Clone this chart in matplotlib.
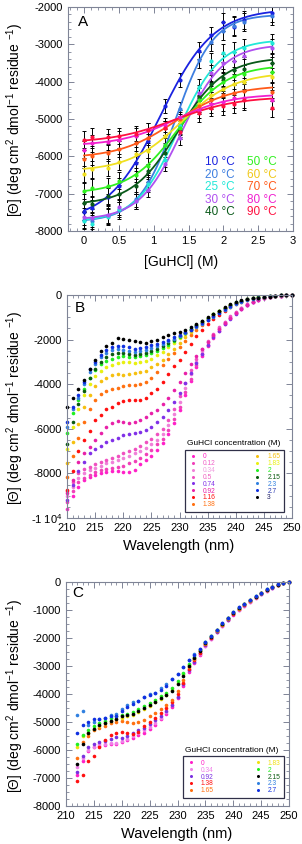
import numpy as np
import matplotlib
matplotlib.use('Agg')
import matplotlib.pyplot as plt
from matplotlib.ticker import MultipleLocator, FuncFormatter
from matplotlib.lines import Line2D

plt.rcParams['font.family'] = ['Liberation Sans', 'DejaVu Sans']
plt.rcParams['mathtext.fontset'] = 'custom'
plt.rcParams['mathtext.rm'] = 'Liberation Sans'
plt.rcParams['mathtext.it'] = 'Liberation Sans:italic'
plt.rcParams['axes.unicode_minus'] = False

# ---------------- Panel A data ----------------
temps_A = [10, 20, 25, 30, 40, 50, 60, 70, 80, 90]
colors_A = ['#1a22e0', '#3d7ee0', '#22e8d8', '#b050f0', '#0a5a1a',
            '#30f020', '#f0e020', '#ff5a1a', '#f020d0', '#ff1040']
legend_colors_A = ['#1a22e0', '#3d7ee0', '#22e8d8', '#b050f0', '#0a5a1a',
                   '#30f020', '#f0c818', '#ff5a1a', '#f020d0', '#ff1040']
conc_A = [0, 0.12, 0.34, 0.5, 0.74, 0.92, 1.16, 1.38, 1.65, 1.83, 2.0, 2.15, 2.3, 2.7]
A_10 = [-7480, -7390, -7080, -6800, -6180, -5600, -4650, -3960, -3170, -2760, -2390, -2530, -2350, -2160]
A_20 = [-7700, -7720, -7600, -7450, -7150, -6700, -5700, -4740, -3420, -2950, -2650, -2500, -2400, -2230]
A_25 = [-7720, -7800, -7620, -7400, -7200, -6750, -6100, -5200, -4150, -3450, -3230, -3200, -3100, -2970]
A_30 = [-7620, -7650, -7560, -7350, -7200, -6900, -6200, -5500, -4300, -3780, -3500, -3450, -3300, -3100]
A_40 = [-7250, -7280, -7050, -7000, -6800, -6400, -5900, -5300, -4400, -4050, -3900, -3700, -3650, -3500]
A_50 = [-6920, -6850, -6800, -6650, -6500, -6250, -5700, -5250, -4500, -4200, -4000, -3850, -3800, -3750]
A_60 = [-6480, -6350, -6300, -6150, -5950, -5850, -5450, -5050, -4600, -4350, -4200, -4050, -4000, -3880]
A_70 = [-6070, -6000, -5900, -5800, -5650, -5500, -5250, -5000, -4650, -4500, -4350, -4300, -4250, -4280]
A_80 = [-5820, -5650, -5620, -5550, -5450, -5300, -5150, -4950, -4750, -4600, -4550, -4450, -4450, -4480]
A_90 = [-5550, -5480, -5480, -5450, -5400, -5300, -5250, -5350, -4850, -4700, -4650, -4600, -4500, -4700]
series_A = [A_10, A_20, A_25, A_30, A_40, A_50, A_60, A_70, A_80, A_90]
err_A = [230, 230, 220, 220, 200, 200, 190, 190, 220, 230, 240, 250, 250, 250]
# sigmoidal fit parameters
fit_low = [-7750, -7750, -7750, -7700, -7300, -7000, -6400, -6050, -5720, -5640]
fit_high = [-2050, -2200, -2870, -3000, -3350, -3550, -3750, -4100, -4330, -4400]
fit_mid = [1.1, 1.32, 1.35, 1.4, 1.35, 1.35, 1.4, 1.3, 1.3, 1.3]
fit_width = [0.38, 0.27, 0.3, 0.3, 0.33, 0.35, 0.38, 0.4, 0.4, 0.45]

# ---------------- Panel B data ----------------
wl_B = list(range(210, 251))
labels_B = ['0', '0.12', '0.34', '0.5', '0.74', '0.92', '1.16', '1.38',
            '1.65', '1.83', '2', '2.15', '2.3', '2.7', '3']
colors_B = ['#ff20c8', '#f040b8', '#f080d8', '#f050c0', '#8030e8', '#e820a8', '#ff1010', '#ff7010',
            '#f5c010', '#e8f010', '#20f020', '#0a5a10', '#3080e0', '#1030e0', '#000000']
text_colors_B = ['#ff20c8', '#f060c8', '#f0a0e0', '#f060c0', '#8030e8', '#e820a8', '#ff1010', '#ff7010',
                 '#f5c010', '#e8f010', '#20f020', '#0a5a10', '#3080e0', '#2838b0', '#202060']
B_0 = [-9600, -9000, -8600, -8300, -8150, -8050, -8000, -7950, -7900, -7900,
       -7950, -7950, -7850, -7600, -7400, -7200, -6950, -6650, -6250, -5750,
       -5150, -4500, -3850, -3250, -2750, -2300, -1930, -1600, -1310, -1050,
       -820, -620, -450, -320, -220, -150, -100, -60, -30, -10, 0]
B_012 = [-9300, -8800, -8400, -8200, -8050, -7950, -7850, -7800, -7750, -7700,
         -7650, -7550, -7450, -7300, -7150, -6950, -6700, -6450, -6050, -5550,
         -5000, -4350, -3750, -3150, -2650, -2220, -1860, -1540, -1260, -1010,
         -790, -600, -430, -300, -210, -140, -90, -55, -30, -10, 0]
B_034 = [-9000, -8600, -8200, -8000, -7850, -7750, -7650, -7550, -7480, -7400,
         -7300, -7200, -7100, -7000, -6850, -6700, -6500, -6250, -5850, -5350,
         -4800, -4150, -3550, -3000, -2520, -2120, -1790, -1490, -1220, -980,
         -770, -580, -420, -300, -200, -130, -85, -50, -25, -10, 0]
B_05 = [-8800, -8400, -8000, -7800, -7700, -7600, -7500, -7400, -7300, -7200,
        -7100, -7000, -6900, -6750, -6600, -6450, -6250, -6000, -5600, -5100,
        -4550, -3950, -3350, -2850, -2400, -2050, -1730, -1440, -1190, -960,
        -760, -570, -420, -300, -200, -130, -80, -50, -25, -10, 0]
B_074 = [-9200, -8500, -7900, -7500, -7100, -6900, -6750, -6600, -6500, -6400,
         -6300, -6250, -6200, -6150, -6050, -5900, -5700, -5450, -5150, -4800,
         -4400, -3950, -3500, -3050, -2650, -2250, -1900, -1600, -1320, -1070,
         -840, -640, -460, -330, -230, -150, -100, -60, -30, -10, 0]
B_092 = [-8900, -8300, -7500, -7100, -6800, -6500, -6200, -5900, -5750, -5650,
         -5700, -5750, -5700, -5600, -5450, -5300, -5150, -4900, -4600, -4250,
         -3900, -3500, -3100, -2750, -2400, -2100, -1800, -1520, -1260, -1020,
         -800, -610, -440, -310, -210, -140, -90, -55, -30, -10, 0]
B_116 = [-8750, -7900, -7000, -6500, -6100, -5600, -5400, -5100, -5000, -4850,
         -4750, -4700, -4720, -4700, -4600, -4400, -4200, -3900, -3550, -3200,
         -2900, -2550, -2200, -1850, -1550, -1300, -1080, -880, -700, -550,
         -420, -320, -240, -180, -130, -90, -60, -40, -20, -10, 0]
B_138 = [-8150, -7200, -6400, -5700, -5100, -4700, -4450, -4300, -4200, -4150,
         -4100, -4050, -4050, -4000, -3900, -3700, -3450, -3150, -2850, -2600,
         -2350, -2050, -1800, -1550, -1330, -1120, -920, -750, -600, -470,
         -360, -270, -200, -150, -110, -80, -55, -35, -20, -10, 0]
B_165 = [-7550, -6600, -5800, -5000, -4500, -4100, -3850, -3700, -3600, -3550,
         -3600, -3550, -3500, -3450, -3400, -3250, -3100, -2900, -2650, -2400,
         -2150, -1900, -1680, -1450, -1250, -1060, -880, -720, -580, -450,
         -340, -260, -190, -140, -100, -75, -50, -30, -20, -10, 0]
B_183 = [-6900, -5900, -5100, -4500, -4000, -3650, -3400, -3250, -3150, -3050,
         -3000, -3020, -3050, -3000, -2950, -2850, -2700, -2550, -2350, -2150,
         -1950, -1750, -1560, -1380, -1200, -1030, -870, -720, -580, -450,
         -340, -250, -190, -140, -100, -75, -50, -30, -15, -5, 0]
B_200 = [-6200, -5300, -4700, -4200, -3700, -3350, -3100, -2950, -2850, -2780,
         -2750, -2760, -2780, -2750, -2700, -2600, -2500, -2380, -2230, -2070,
         -1900, -1720, -1540, -1360, -1190, -1030, -870, -720, -580, -450,
         -340, -250, -190, -140, -100, -75, -50, -30, -15, -5, 0]
B_215 = [-6700, -5700, -4900, -4300, -3700, -3300, -3000, -2800, -2650, -2600,
         -2620, -2650, -2700, -2650, -2600, -2500, -2400, -2300, -2150, -2000,
         -1850, -1690, -1520, -1350, -1180, -1020, -860, -710, -570, -440,
         -330, -250, -180, -135, -100, -70, -50, -30, -15, -5, 0]
B_230 = [-5900, -5100, -4600, -4000, -3450, -3100, -2800, -2600, -2480, -2420,
         -2450, -2500, -2550, -2500, -2450, -2380, -2300, -2200, -2080, -1970,
         -1850, -1720, -1580, -1430, -1280, -1130, -970, -820, -670, -520,
         -400, -300, -210, -160, -120, -90, -60, -40, -20, -5, 0]
B_270 = [-5700, -5000, -4500, -3900, -3300, -3000, -2700, -2450, -2350, -2300,
         -2300, -2350, -2400, -2380, -2350, -2250, -2200, -2100, -2000, -1900,
         -1800, -1680, -1550, -1400, -1250, -1100, -950, -800, -650, -500,
         -380, -280, -200, -150, -120, -90, -60, -40, -20, -5, 0]
B_300 = [-5000, -4600, -4200, -3800, -3300, -2900, -2500, -2300, -2150, -1950,
         -1980, -2000, -2050, -2100, -2150, -2050, -2000, -1900, -1800, -1720,
         -1650, -1550, -1450, -1300, -1150, -1000, -850, -700, -550, -420,
         -300, -230, -180, -150, -140, -100, -80, -50, -20, 0, 10]
series_B = [B_0, B_012, B_034, B_05, B_074, B_092, B_116, B_138,
            B_165, B_183, B_200, B_215, B_230, B_270, B_300]

# ---------------- Panel C data ----------------
wl_C = list(range(212, 251))
labels_C = ['0', '0.34', '0.92', '1.38', '1.65', '1.83', '2', '2.15', '2.3', '2.7']
colors_C = ['#ff20c8', '#f080e8', '#7a30e0', '#ff1010', '#ff7010',
            '#f0e010', '#20f020', '#000000', '#3080e0', '#1030e0']
text_colors_C = ['#ff20c8', '#f080e8', '#7a30e0', '#ff1010', '#ff7010',
                 '#f0e010', '#20f020', '#0a5a10', '#3080e0', '#1030e0']
C_0 = [-6900, -6400, -6050, -5900, -5850, -5830, -5800, -5780, -5720, -5650,
       -5570, -5480, -5380, -5250, -5100, -4900, -4700, -4450, -4150, -3700,
       -3200, -2900, -2600, -2300, -2050, -1800, -1580, -1370, -1170, -1000,
       -850, -710, -570, -440, -320, -210, -120, -50, 0]
C_034 = [-6600, -6300, -6000, -5900, -5800, -5800, -5760, -5750, -5680, -5600,
         -5500, -5400, -5300, -5180, -5030, -4850, -4650, -4400, -4100, -3650,
         -3150, -2850, -2560, -2270, -2030, -1790, -1560, -1350, -1150, -990,
         -840, -700, -560, -430, -310, -200, -110, -45, 0]
C_092 = [-6770, -6200, -5880, -5780, -5720, -5680, -5600, -5540, -5560, -5500,
         -5400, -5300, -5200, -5080, -4930, -4780, -4600, -4400, -4100, -3650,
         -3150, -2850, -2550, -2260, -2010, -1780, -1550, -1340, -1140, -980,
         -830, -690, -550, -420, -300, -200, -110, -40, 0]
C_138 = [-7100, -6900, -6400, -6200, -5900, -5650, -5480, -5380, -5350, -5380,
         -5420, -5350, -5150, -5000, -4850, -4680, -4500, -4280, -4000, -3600,
         -3100, -2800, -2520, -2230, -1990, -1760, -1540, -1330, -1130, -970,
         -820, -680, -540, -410, -290, -190, -100, -40, 0]
C_165 = [-6300, -5700, -5500, -5300, -5200, -5150, -5050, -5000, -4980, -4990,
         -5050, -5000, -4920, -4800, -4680, -4550, -4400, -4200, -3900, -3500,
         -3050, -2750, -2480, -2200, -1960, -1740, -1520, -1310, -1110, -950,
         -800, -670, -530, -400, -280, -180, -100, -40, 0]
C_183 = [-5900, -5500, -5400, -5250, -5150, -5050, -4950, -4900, -4850, -4800,
         -4750, -4650, -4550, -4430, -4300, -4180, -4030, -3850, -3600, -3300,
         -2950, -2700, -2440, -2170, -1940, -1720, -1500, -1290, -1090, -930,
         -790, -660, -520, -390, -270, -170, -90, -30, 0]
C_200 = [-5800, -5450, -5300, -5150, -5050, -4950, -4850, -4800, -4750, -4720,
         -4650, -4550, -4420, -4320, -4200, -4080, -3950, -3780, -3550, -3250,
         -2920, -2680, -2420, -2160, -1930, -1710, -1490, -1280, -1080, -920,
         -780, -650, -510, -380, -260, -170, -85, -25, 0]
C_215 = [-6500, -5800, -5400, -5250, -5100, -5050, -4950, -4880, -4800, -4750,
         -4700, -4620, -4500, -4400, -4270, -4150, -4030, -3880, -3650, -3350,
         -3000, -2720, -2450, -2180, -1950, -1730, -1500, -1290, -1090, -930,
         -790, -660, -520, -390, -270, -170, -90, -30, 0]
C_230 = [-4750, -4600, -5100, -5000, -4900, -4850, -4750, -4700, -4550, -4400,
         -4300, -4250, -4100, -4000, -3950, -3800, -3650, -3450, -3300, -3050,
         -2800, -2580, -2380, -2140, -1920, -1700, -1480, -1270, -1070, -910,
         -770, -640, -500, -380, -260, -170, -80, -20, 0]
C_270 = [-5400, -5100, -5000, -4900, -4880, -4850, -4800, -4780, -4600, -4450,
         -4350, -4250, -4100, -4050, -3980, -3850, -3700, -3450, -3300, -3050,
         -2800, -2600, -2400, -2150, -1920, -1700, -1480, -1270, -1060, -900,
         -770, -650, -500, -380, -260, -170, -80, -20, 0]
series_C = [C_0, C_034, C_092, C_138, C_165, C_183, C_200, C_215, C_230, C_270]

SPINE = '#7f8496'
YLABEL = '[\u0398] (deg cm$^{2}$ dmol$^{-1}$ residue $^{-1}$)'

fig = plt.figure(figsize=(3.02, 8.44), dpi=100)
W, H = 302.0, 844.0


def add_axes(l, t, r, b):
    return fig.add_axes([l / W, 1 - b / H, (r - l) / W, (b - t) / H])


def style(ax):
    for s in ax.spines.values():
        s.set_color(SPINE)
        s.set_linewidth(0.8)
    ax.tick_params(which='both', direction='in', top=True, right=True,
                   color=SPINE, labelsize=8, pad=3.5)
    ax.tick_params(which='major', length=4, width=0.7)
    ax.tick_params(which='minor', length=2, width=0.6)


# ---------------- Panel A ----------------
axA = add_axes(68, 7, 293, 231)
style(axA)
xf = np.linspace(0, 2.7, 200)
for vals, c, lo, hi, mid, wd in zip(series_A, colors_A, fit_low, fit_high, fit_mid, fit_width):
    axA.errorbar(conc_A, vals, yerr=err_A, fmt='none', ecolor='black',
                 elinewidth=0.7, capsize=1.6, capthick=0.7, zorder=2)
for vals, c, lo, hi, mid, wd in zip(series_A, colors_A, fit_low, fit_high, fit_mid, fit_width):
    yf = lo + (hi - lo) / (1 + np.exp(-(xf - mid) / wd))
    axA.plot(xf, yf, color=c, lw=1.3, zorder=3)
    axA.plot(conc_A, vals, 'o', color=c, ms=3, mec='none', zorder=4)
axA.set_xlim(-0.23, 3.0)
axA.set_ylim(-8000, -2000)
axA.xaxis.set_major_locator(MultipleLocator(0.5))
axA.xaxis.set_minor_locator(MultipleLocator(0.1))
axA.yaxis.set_major_locator(MultipleLocator(1000))
axA.yaxis.set_minor_locator(MultipleLocator(200))
axA.xaxis.set_major_formatter(FuncFormatter(lambda v, p: f'{v:g}'))
axA.text(0.067, 0.933, 'A', transform=axA.transAxes, ha='center', va='center', fontsize=11)
hA = [Line2D([], [], ls='none') for _ in temps_A]
legA = axA.legend(hA, [f'{t} \u00b0C' for t in temps_A], ncol=2, loc='upper left',
                  bbox_to_anchor=(0.61, 0.335), frameon=False, handlelength=0,
                  handletextpad=0, columnspacing=1.0, labelspacing=0.05,
                  fontsize=8.5, borderpad=0, borderaxespad=0)
for t, c in zip(legA.get_texts(), legend_colors_A):
    t.set_color(c)
fig.text(181 / W, 1 - 262 / H, '[GuHCl] (M)', ha='center', va='center', fontsize=10)
fig.text(15 / W, 1 - 120 / H, YLABEL, rotation=90, ha='center', va='center', fontsize=10)

# ---------------- Panel B ----------------
axB = add_axes(67, 295, 292, 518)
style(axB)
for vals, c in zip(series_B, colors_B):
    axB.plot(wl_B, vals, 'o', color=c, ms=2.6, mec='none', clip_on=False)
axB.set_xlim(210, 250)
axB.set_ylim(-10000, 0)
axB.xaxis.set_major_locator(MultipleLocator(5))
axB.xaxis.set_minor_locator(MultipleLocator(1))
axB.yaxis.set_major_locator(MultipleLocator(2000))
axB.yaxis.set_minor_locator(MultipleLocator(500))
axB.yaxis.set_major_formatter(FuncFormatter(
    lambda v, p: '-1 10$^{4}$' if abs(v + 10000) < 1 else f'{v:.0f}'))
axB.text(0.058, 0.942, 'B', transform=axB.transAxes, ha='center', va='center', fontsize=11)
hB = [Line2D([], [], ls='none', marker='o', ms=2.2, mfc=c, mec='none') for c in colors_B]
legB = axB.legend(hB, labels_B, ncol=2, loc='lower left',
                  bbox_to_anchor=(0.524, 0.027, 0.44, 0.287), mode='expand',
                  fontsize=4.8, labelspacing=-0.02, handlelength=1.2, handletextpad=0.9,
                  borderpad=0.55, columnspacing=1.0, fancybox=False, framealpha=1,
                  edgecolor='#303048', borderaxespad=0)
legB.get_frame().set_linewidth(0.9)
for t, c in zip(legB.get_texts(), text_colors_B):
    t.set_color(c)
axB.text(0.742, 0.336, 'GuHCl concentration (M)', transform=axB.transAxes,
         ha='center', va='center', fontsize=6)
fig.text(179 / W, 1 - 546 / H, 'Wavelength (nm)', ha='center', va='center', fontsize=10.5)
fig.text(15 / W, 1 - 408 / H, YLABEL, rotation=90, ha='center', va='center', fontsize=10)

# ---------------- Panel C ----------------
axC = add_axes(66, 582, 289, 806)
style(axC)
for vals, c in zip(series_C, colors_C):
    axC.plot(wl_C, vals, 'o', color=c, ms=2.6, mec='none', clip_on=False)
axC.set_xlim(210, 250)
axC.set_ylim(-8000, 0)
axC.xaxis.set_major_locator(MultipleLocator(5))
axC.xaxis.set_minor_locator(MultipleLocator(1))
axC.yaxis.set_major_locator(MultipleLocator(1000))
axC.yaxis.set_minor_locator(MultipleLocator(250))
axC.text(0.054, 0.951, 'C', transform=axC.transAxes, ha='center', va='center', fontsize=11)
hC = [Line2D([], [], ls='none', marker='o', ms=2.2, mfc=c, mec='none') for c in colors_C]
legC = axC.legend(hC, labels_C, ncol=2, loc='lower left',
                  bbox_to_anchor=(0.525, 0.036, 0.453, 0.192), mode='expand',
                  fontsize=4.8, labelspacing=-0.02, handlelength=1.2, handletextpad=0.9,
                  borderpad=0.55, columnspacing=1.0, fancybox=False, framealpha=1,
                  edgecolor='#303048', borderaxespad=0)
legC.get_frame().set_linewidth(0.9)
for t, c in zip(legC.get_texts(), text_colors_C):
    t.set_color(c)
axC.text(0.744, 0.25, 'GuHCl concentration (M)', transform=axC.transAxes,
         ha='center', va='center', fontsize=6)
fig.text(177 / W, 1 - 834 / H, 'Wavelength (nm)', ha='center', va='center', fontsize=10.5)
fig.text(15 / W, 1 - 696 / H, YLABEL, rotation=90, ha='center', va='center', fontsize=10)

fig.savefig('out.png', dpi=100)
